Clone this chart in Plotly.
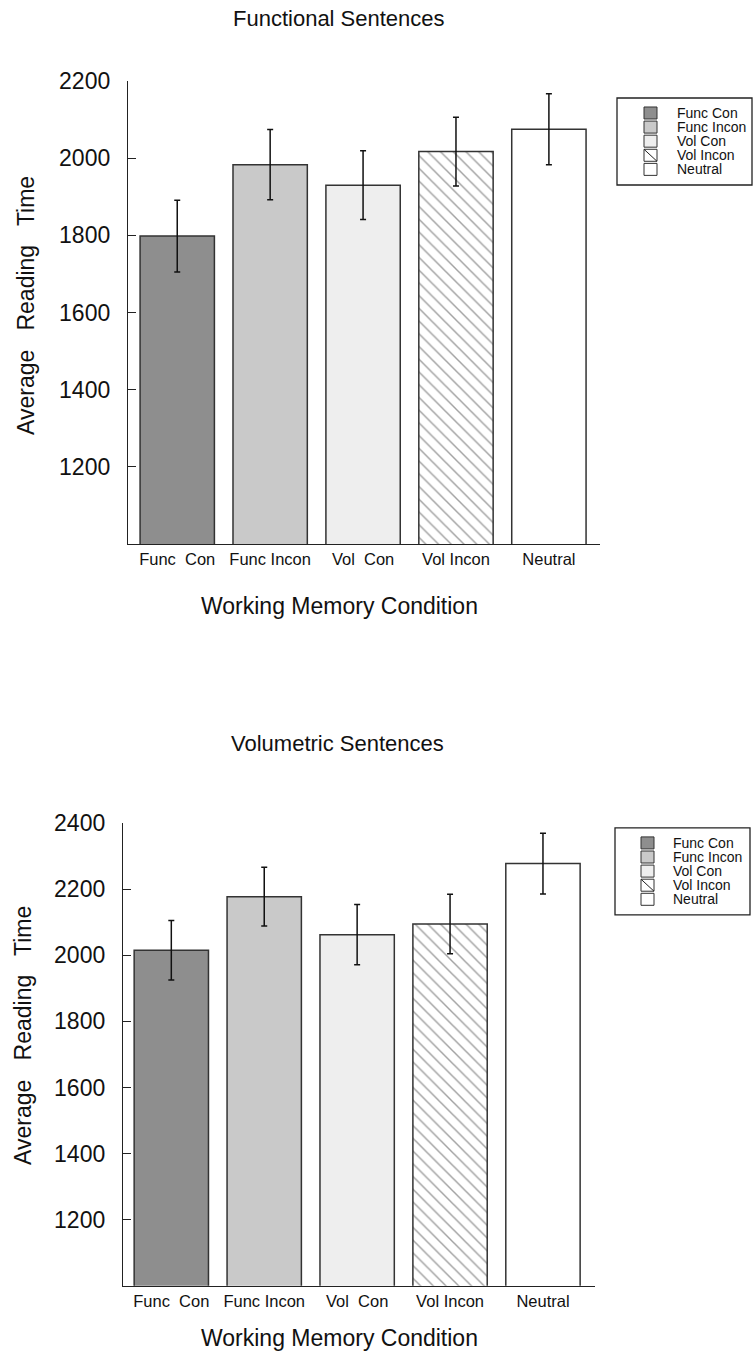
import plotly.graph_objects as go

categories = ["Func\u00a0 Con", "Func Incon", "Vol\u00a0 Con", "Vol Incon", "Neutral"]
legend_labels = ["Func Con", "Func Incon", "Vol\u00a0Con", "Vol Incon", "Neutral"]

func_means = [1798, 1983, 1930, 2017, 2075]
func_errs = [93, 91, 89, 89, 92]

vol_means = [2015, 2177, 2062, 2094, 2277]
vol_errs = [90, 89, 91, 90, 92]

y_ticks_top = [1200, 1400, 1600, 1800, 2000, 2200]
y_ticks_bot = [1200, 1400, 1600, 1800, 2000, 2200, 2400]

bar_colors = ["#8e8e8e", "#c9c9c9", "#eeeeee", "#ffffff", "#ffffff"]
patterns = ["", "", "", "\\", ""]

W = 756
H = 1353
FONT = "Liberation Sans, Arial, Helvetica, sans-serif"


def px_x(x):
    return x / W


def px_y(y):
    yin = (y - 12) / 0.9905
    return 1 - yin / H


fig = go.Figure()

for means, errs, xa, ya in [(func_means, func_errs, "x", "y"), (vol_means, vol_errs, "x2", "y2")]:
    fig.add_trace(go.Bar(
        x=categories, y=means, xaxis=xa, yaxis=ya, width=0.8,
        marker=dict(color=bar_colors, line=dict(color="#333333", width=1.5),
                    pattern=dict(shape=patterns, fgcolor="#000000", bgcolor="#ffffff",
                                 size=9, solidity=0.16)),
        error_y=dict(type="data", array=errs, visible=True, color="#111111", thickness=1.5, width=3),
        showlegend=False,
    ))

axis_common = dict(showline=True, linecolor="#222222", linewidth=1.3, showgrid=False, zeroline=False)

fig.update_layout(
    width=W, height=H, autosize=False,
    margin=dict(l=0, r=0, t=0, b=0),
    paper_bgcolor="white", plot_bgcolor="white",
    font=dict(family=FONT, color="#111111"),
    xaxis=dict(domain=[px_x(128), px_x(600)], range=[-0.53, 4.55], anchor="y", ticks="",
               tickfont=dict(size=16.5), ticklabelstandoff=0, **axis_common),
    yaxis=dict(domain=[px_y(543), px_y(80)], range=[1000, 2200], anchor="x", ticks="inside",
               ticklen=8, tickcolor="#222222", tickvals=y_ticks_top, tickfont=dict(size=23),
               ticklabelstandoff=12, **axis_common),
    xaxis2=dict(domain=[px_x(123), px_x(595)], range=[-0.52, 4.56], anchor="y2", ticks="",
                tickfont=dict(size=16.5), ticklabelstandoff=0, **axis_common),
    yaxis2=dict(domain=[px_y(1285), px_y(822)], range=[1000, 2400], anchor="x2", ticks="inside",
                ticklen=8, tickcolor="#222222", tickvals=y_ticks_bot, tickfont=dict(size=23),
                ticklabelstandoff=12, **axis_common),
)

annotations = []
shapes = []


def txt(x, y, s, size, angle=0, xanchor="center"):
    annotations.append(dict(x=px_x(x), y=px_y(y), xref="paper", yref="paper", text=s,
                            showarrow=False, font=dict(size=size, family=FONT, color="#111111"),
                            textangle=angle, xanchor=xanchor, yanchor="middle"))


# titles
txt(339, 18, "Functional Sentences", 22)
txt(337, 743, "Volumetric Sentences", 22)
txt(339, 605, "Working Memory Condition", 23)
txt(339, 1337, "Working Memory Condition", 23)
txt(26, 305, "Average\u00a0\u00a0 Reading\u00a0\u00a0 Time", 23, angle=-90)
txt(23, 1035, "Average\u00a0\u00a0 Reading\u00a0\u00a0 Time", 23, angle=-90)


def legend(box, sw_x, txt_x, row0, step):
    x0, y0, x1, y1 = box
    shapes.append(dict(type="rect", xref="paper", yref="paper", x0=px_x(x0), x1=px_x(x1),
                       y0=px_y(y1), y1=px_y(y0), line=dict(color="#222222", width=1.3),
                       fillcolor="rgba(0,0,0,0)"))
    for i, lab in enumerate(legend_labels):
        cy = row0 + i * step
        shapes.append(dict(type="rect", xref="paper", yref="paper",
                           x0=px_x(sw_x), x1=px_x(sw_x + 13), y0=px_y(cy + 6), y1=px_y(cy - 6),
                           line=dict(color="#333333", width=1), fillcolor=bar_colors[i]))
        if patterns[i]:
            shapes.append(dict(type="line", xref="paper", yref="paper",
                               x0=px_x(sw_x), x1=px_x(sw_x + 13), y0=px_y(cy - 6), y1=px_y(cy + 6),
                               line=dict(color="#222222", width=1)))
        txt(txt_x, cy, lab, 14, xanchor="left")


legend((617, 97, 752, 184), 644, 675, 112, 14.1)
legend((615, 827, 750, 914), 641, 671, 842, 14.1)

fig.update_layout(annotations=annotations, shapes=shapes)

fig.write_html("out.html")
